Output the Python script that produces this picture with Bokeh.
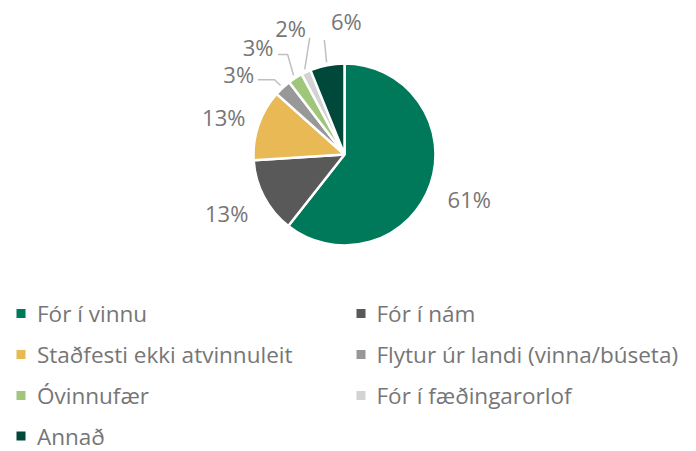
import math
from bokeh.plotting import figure
from bokeh.models import Range1d, ColumnDataSource
from bokeh.core.properties import value
from bokeh.embed import file_html
from bokeh.resources import INLINE

# ---- data ----
categories = ["Fór í vinnu", "Fór í nám", "Staðfesti ekki atvinnuleit",
              "Flytur úr landi (vinna/búseta)", "Óvinnufær",
              "Fór í fæðingarorlof", "Annað"]
shares = [60.6, 13.4, 12.6, 3.0, 2.6, 1.7, 6.1]
colors = ["#00785A", "#595959", "#E9B955", "#989898", "#A0C67C", "#D3D3D3", "#00483A"]

# ---- layout (styles/positions) ----
W, H = 696, 451
FONT = "Open Sans"
TXT = "#767676"
cx, cy = 344, H - 154      # pie centre (data units = pixels)
R = 91
LABEL_DIST = 132
label_nudge = [(0, -1), (-1, 3), (4, -6), (-16, -16), (-15, -4), (2, 7), (27, 4)]
# leader line offsets relative to label centre (None = no leader)
leader = [None, None, None, ("h", 19, -6), ("h", 20, -7), ("v", 19, -10), ("v", -22, -19)]

def to_y(img_y):
    return H - img_y

p = figure(width=W, height=H, output_backend="svg", toolbar_location=None,
           x_range=Range1d(0, W), y_range=Range1d(0, H), min_border=0)
p.axis.visible = False
p.grid.visible = False
p.outline_line_color = None
p.background_fill_color = None
p.border_fill_color = None

total = sum(shares)
starts, ends, mids = [], [], []
cum = 0.0
for s in shares:
    a0 = math.pi / 2 - 2 * math.pi * (cum + s) / total
    a1 = math.pi / 2 - 2 * math.pi * cum / total
    starts.append(a0)
    ends.append(a1)
    mids.append((a0 + a1) / 2)
    cum += s

src = ColumnDataSource(dict(start=starts, end=ends, color=colors, cat=categories))
p.wedge(x=cx, y=cy, radius=R, start_angle="start", end_angle="end",
        fill_color="color", line_color="white", line_width=2.5, source=src)

# percentage labels
lx, ly, lt = [], [], []
for i, (m, s) in enumerate(zip(mids, shares)):
    x = cx + LABEL_DIST * math.cos(m) + label_nudge[i][0]
    y = cy + LABEL_DIST * math.sin(m) + label_nudge[i][1]
    lx.append(x)
    ly.append(y)
    lt.append(f"{round(s * 100 / total)}%")
p.text(x=lx, y=ly, text=lt, text_align="center", text_baseline="middle",
       text_font=value(FONT), text_font_size="22px", text_color=TXT)

# leader lines
xs, ys = [], []
for i, ld in enumerate(leader):
    if ld is None:
        continue
    kind, ox, oy = ld
    ax = cx + (R + 3) * math.cos(mids[i])
    ay = cy + (R + 3) * math.sin(mids[i])
    sx, sy = lx[i] + ox, ly[i] + oy
    if kind == "h":
        xs.append([sx, ax - 6, ax])
        ys.append([sy, sy, ay])
    else:
        xs.append([sx, ax])
        ys.append([sy, ay])
p.multi_line(xs=xs, ys=ys, line_color="#C0C0C0", line_width=1.5)

# legend (two columns, row-major)
col_sq_x = [20.5, 360.5]
col_tx_x = [36.5, 376]
row_sq = [313, 354, 395, 435.5]
gx, gy, tx, ty = [], [], [], []
for i, c in enumerate(categories):
    r, col = divmod(i, 2)
    gx.append(col_sq_x[col])
    gy.append(to_y(row_sq[r]))
    tx.append(col_tx_x[col])
    ty.append(to_y(row_sq[r]))
p.scatter(x=gx, y=gy, marker="square", size=9, fill_color=colors, line_color=None)
p.text(x=tx, y=ty, text=categories, text_align="left", text_baseline="middle",
       text_font=value(FONT), text_font_size="22.5px", text_color=TXT)

open("out.html", "w").write(file_html(p, INLINE))
